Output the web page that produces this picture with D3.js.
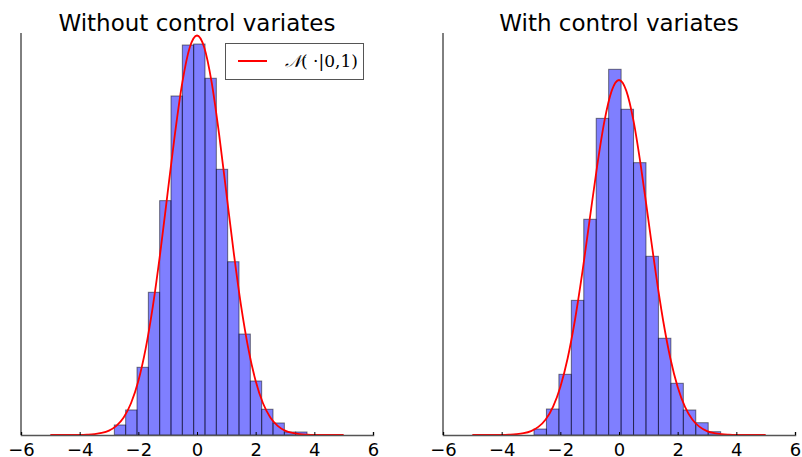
<!DOCTYPE html>
<meta charset='utf-8'>
<style>
  body {
    margin: 0;
    background: #fff;
  }
  .title {
    font: 23px 'DejaVu Sans';
    fill: #000;
  }
  .legend text {
    font: 17px 'DejaVu Serif';
  }
</style>
<body>
<script src='https://d3js.org/d3.v7.min.js'></script>
<script>
  // bin edges and densities
  const leftEdges = [-2.818, -2.432, -2.045, -1.659, -1.273, -0.886, -0.500, -0.114, 0.273,
    0.659, 1.046, 1.432, 1.818, 2.205, 2.591, 2.978, 3.364, 3.750]
  const leftDensity = [0.0100, 0.0250, 0.0676, 0.1425, 0.2340, 0.3385, 0.3894, 0.3904, 0.3562,
    0.2653, 0.1730, 0.1008, 0.0539, 0.0257, 0.0120, 0.0030, 0.0030]

  const rightEdges = [-2.898, -2.474, -2.049, -1.625, -1.201, -0.777, -0.353, 0.072, 0.496,
    0.920, 1.344, 1.769, 2.193, 2.617, 3.041, 3.466]
  const rightDensity = [0.0067, 0.0292, 0.0682, 0.1513, 0.2424, 0.3558, 0.4109, 0.3660,
    0.3060, 0.2008, 0.1087, 0.0581, 0.0281, 0.0138, 0.0037]

  // N(0,1) curve as drawn
  const curveX = [-5, -4.75, -4.5, -4.25, -4, -3.75, -3.5, -3.25, -3, -2.75, -2.5, -2.25, -2,
    -1.75, -1.5, -1.25, -1, -0.75, -0.5, -0.25, 0, 0.25, 0.5, 0.75, 1, 1.25, 1.5, 1.75, 2,
    2.25, 2.5, 2.75, 3, 3.25, 3.5, 3.75, 4, 4.25, 4.5, 4.75, 5]
  const curveY = [0.0000, 0.0000, 0.0000, 0.0000, 0.0001, 0.0004, 0.0009, 0.0020, 0.0044,
    0.0091, 0.0175, 0.0317, 0.0540, 0.0863, 0.1295, 0.1826, 0.2420, 0.3011, 0.3521, 0.3867,
    0.3989, 0.3867, 0.3521, 0.3011, 0.2420, 0.1826, 0.1295, 0.0863, 0.0540, 0.0317, 0.0175,
    0.0091, 0.0044, 0.0020, 0.0009, 0.0004, 0.0001, 0.0000, 0.0000, 0.0000, 0.0000]

  const xTicks = [-6, -4, -2, 0, 2, 4, 6]
  const titles = ['Without control variates', 'With control variates']

  const W = 802
  const H = 457
  const plotTop = 33
  const plotBottom = 435
  const plotW = 352

  const svg = d3.select('body')
    .append('svg')
    .attr('width', W)
    .attr('height', H)

  const curve = curveX.map((x, i) => ({x: x, y: curveY[i]}))

  function panel(left, edges, dens, yMax, title, showLegend) {
    const x = d3.scaleLinear().domain([-6, 6]).range([left, left + plotW])
    const y = d3.scaleLinear().domain([0, yMax]).range([plotBottom, plotTop])
    const g = svg.append('g')

    const bins = dens.map((d, i) => ({x0: edges[i], x1: edges[i + 1], v: d}))

    g.selectAll('rect.bar')
      .data(bins)
      .enter()
      .append('rect')
      .attr('class', 'bar')
      .attr('x', d => x(d.x0))
      .attr('y', d => y(d.v))
      .attr('width', d => x(d.x1) - x(d.x0))
      .attr('height', d => y(0) - y(d.v))
      .attr('fill', 'rgb(0,0,255)')
      .attr('fill-opacity', 0.5)
      .attr('stroke', '#000')
      .attr('stroke-opacity', 0.5)
      .attr('stroke-width', 1)

    const line = d3.line()
      .x(d => x(d.x))
      .y(d => y(d.y))
      .curve(d3.curveMonotoneX)

    g.append('path')
      .datum(curve)
      .attr('d', line)
      .attr('fill', 'none')
      .attr('stroke', 'red')
      .attr('stroke-width', 1.8)

    // y spine
    g.append('line')
      .attr('x1', left).attr('x2', left)
      .attr('y1', plotTop).attr('y2', plotBottom)
      .attr('stroke', '#000')

    const xAxis = d3.axisBottom(x)
      .tickValues(xTicks)
      .tickSize(-3)
      .tickFormat(d => d < 0 ? '\u2212' + Math.abs(d) : d)

    const ax = g.append('g')
      .attr('class', 'axis')
      .attr('transform', `translate(0, ${plotBottom})`)
      .call(xAxis)
      .attr('font-size', 18)
      .attr('font-family', 'DejaVu Sans')
    ax.select('.domain').attr('stroke', '#555').attr('stroke-width', 1.5)
    ax.selectAll('.tick line').attr('stroke', '#000')
    ax.selectAll('.tick text')
      .attr('y', 20.5)
      .attr('dy', 0)
      .style('font-size', '18px')
      .style('font-family', 'DejaVu Sans')

    g.append('text')
      .attr('class', 'title')
      .attr('x', left + plotW / 2)
      .attr('y', 31)
      .attr('text-anchor', 'middle')
      .text(title)

    if (showLegend) {
      const lg = g.append('g').attr('class', 'legend')
      lg.append('rect')
        .attr('x', 225.5).attr('y', 43.5)
        .attr('width', 138).attr('height', 36)
        .attr('fill', '#fff')
        .attr('stroke', '#555')
      lg.append('line')
        .attr('x1', 238).attr('x2', 267)
        .attr('y1', 61).attr('y2', 61)
        .attr('stroke', 'red')
        .attr('stroke-width', 2)
      const t = lg.append('text')
        .attr('x', 285)
        .attr('y', 67)
      t.append('tspan').style('font-style', 'italic').text('\uD835\uDCA9')
      t.append('tspan').text('( \u00B7|0,1)')
    }
  }

  panel(21, leftEdges, leftDensity, 0.4014, titles[0], true)
  panel(443, rightEdges, rightDensity, 0.4517, titles[1], false)
</script>
</body>
